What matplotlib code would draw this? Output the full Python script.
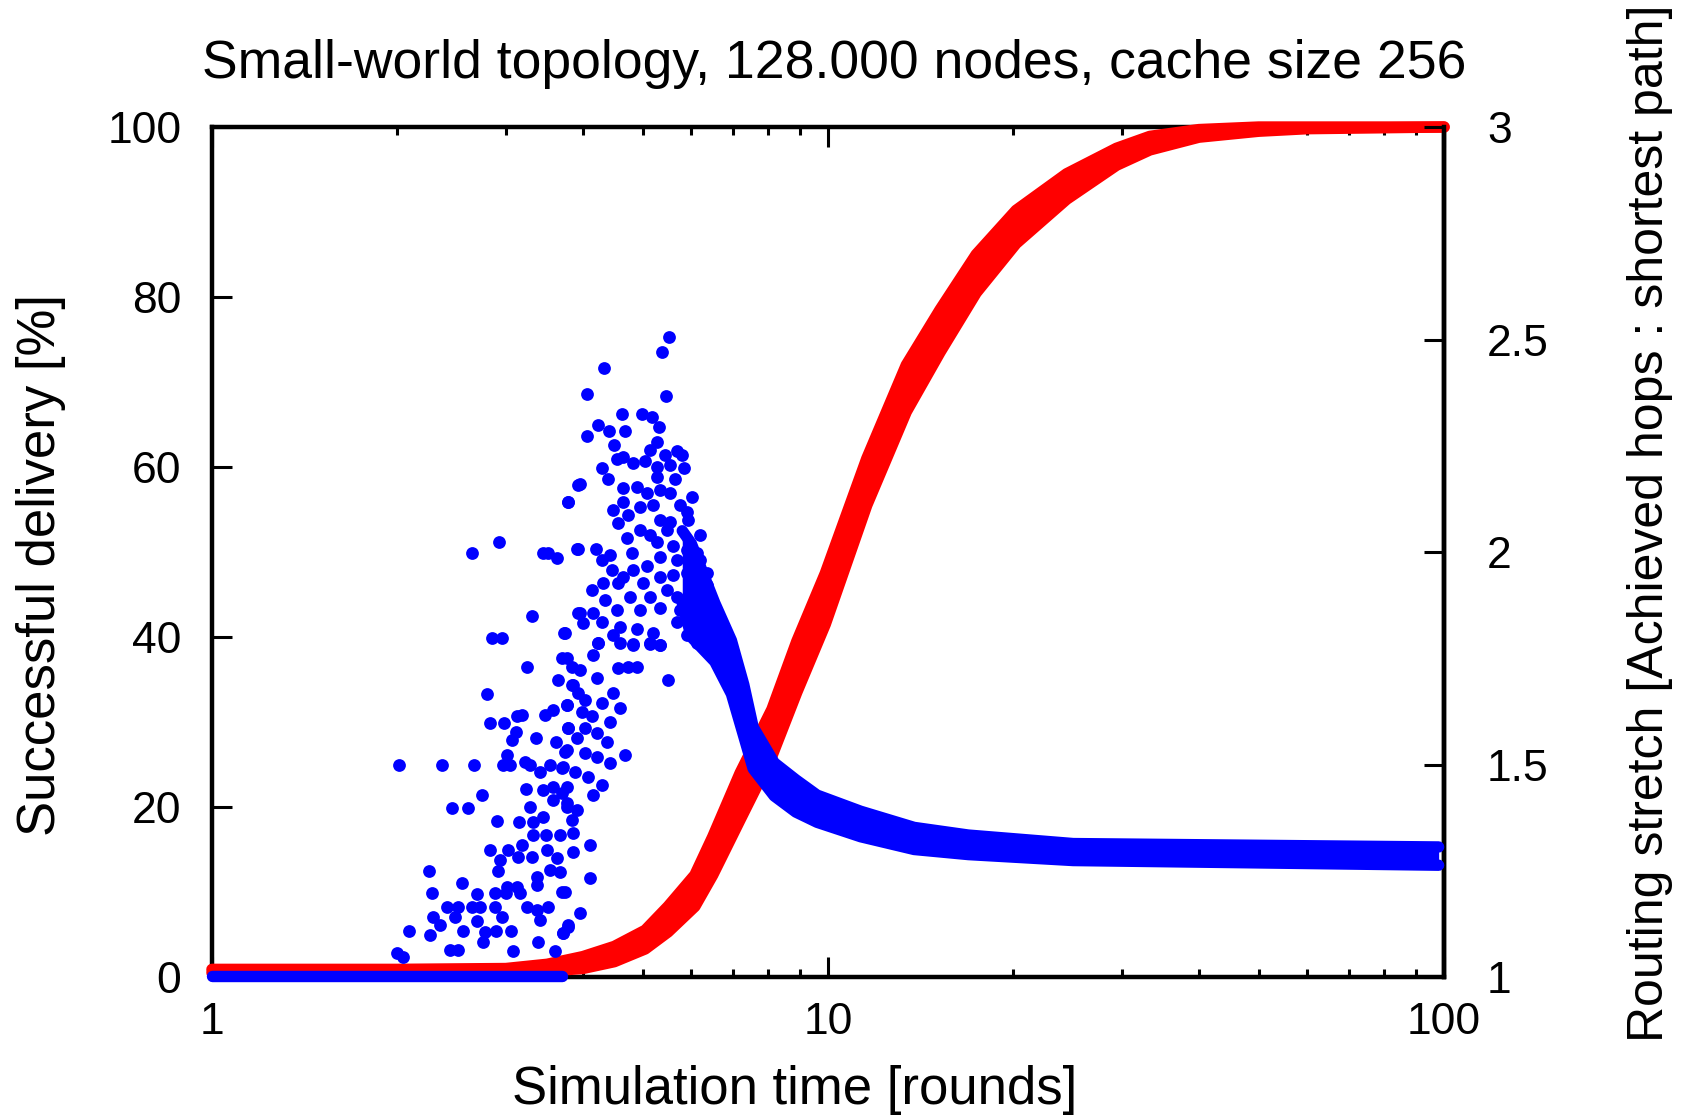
import matplotlib
matplotlib.use('Agg')
import matplotlib.pyplot as plt
from matplotlib.ticker import LogLocator, NullFormatter

plt.rcParams['font.family'] = ['Liberation Sans', 'DejaVu Sans']

# successful delivery [%] -- dense red band, lower / upper edge of the dot cloud
red_x = [1.0, 2.0, 3.0, 3.5, 4.0, 4.5, 5.05, 5.5, 6.08, 6.5, 7.2, 8.11, 8.9, 9.9,
         11.56, 13.4, 15.2, 17.4, 20.2, 24.4, 29.4, 33.3, 40, 50, 60, 100]
red_lo = [0.5, 0.5, 0.6, 0.7, 1.0, 1.8, 3.3, 5.3, 8.3, 12.0, 18.5, 26.0, 33.5, 41.5,
          55.5, 66.5, 73.5, 80.5, 86.3, 91.5, 95.5, 97.3, 98.8, 99.5, 99.8, 100]
red_hi = [0.9, 0.9, 1.0, 1.5, 2.4, 3.6, 5.5, 8.3, 12.0, 16.5, 24.0, 31.5, 39.5, 47.5,
          61.0, 72.0, 78.5, 85.0, 90.2, 94.5, 97.5, 98.9, 99.7, 100, 100, 100]

# routing stretch -- flat part at 1 before any delivery
floor_x = [1.0, 3.7]
floor_s = [1.002, 1.002]

# routing stretch -- dense blue band after the peak
band_x = [5.8, 6.0, 6.55, 6.97, 7.3, 7.56, 8.18, 8.87, 9.6, 11.3, 13.8, 16.9, 25, 98]
band_lo = [1.88, 1.80, 1.742, 1.666, 1.566, 1.49, 1.426, 1.388, 1.364, 1.33, 1.30, 1.288,
           1.274, 1.263]
band_hi = [2.05, 2.02, 1.88, 1.792, 1.688, 1.588, 1.504, 1.464, 1.428, 1.39, 1.352, 1.334,
           1.314, 1.306]

# routing stretch -- scattered single points (rounds, stretch)
blue_pts = [
    # upper left
    (3.933, 2.158), (3.780, 2.118), (2.927, 2.024), (2.646, 1.998), (3.450, 1.998),
    (3.516, 1.998), (3.636, 1.985), (3.917, 2.006), (3.303, 1.849), (2.852, 1.798),
    (2.960, 1.798), (3.731, 1.809), (3.933, 1.856),
    # peak
    (5.526, 2.507), (5.370, 2.470), (4.334, 2.434), (4.058, 2.372), (5.458, 2.366),
    (4.636, 2.324), (4.983, 2.324), (5.174, 2.317), (5.317, 2.295), (4.238, 2.300),
    (4.410, 2.285), (4.682, 2.285), (4.058, 2.274), (4.494, 2.252), (5.271, 2.260),
    (5.140, 2.240), (5.438, 2.228), (5.679, 2.238), (5.785, 2.228), (4.539, 2.220),
    (4.653, 2.223), (4.829, 2.209), (5.045, 2.213), (5.271, 2.201), (5.540, 2.205),
    (5.837, 2.197), (4.291, 2.197), (4.400, 2.172), (5.271, 2.177), (5.644, 2.172),
    (3.958, 2.159), (4.653, 2.150), (4.891, 2.154), (5.077, 2.138), (5.337, 2.146),
    (5.540, 2.138), (6.005, 2.130), (3.789, 2.118), (4.653, 2.118), (4.952, 2.107),
    (5.206, 2.111), (5.750, 2.111), (5.895, 2.095), (4.482, 2.100), (4.741, 2.087),
    (4.567, 2.068), (5.337, 2.075), (5.540, 2.071), (5.932, 2.075), (4.952, 2.052),
    (5.140, 2.040), (5.471, 2.052), (6.197, 2.040), (4.711, 2.032), (5.271, 2.024),
    (5.609, 2.013), (5.895, 2.005), (6.121, 1.997), (3.933, 2.006), (4.201, 2.006),
    (4.428, 1.993), (4.800, 1.997), (5.077, 1.966), (5.337, 1.989), (5.679, 1.981),
    (6.197, 1.981), (4.291, 1.981), (4.455, 1.958), (4.653, 1.942), (4.829, 1.958),
    (5.337, 1.942), (5.609, 1.946), (5.895, 1.950), (6.353, 1.950), (4.134, 1.911),
    (4.317, 1.926), (4.567, 1.926), (5.014, 1.926), (5.471, 1.911), (6.045, 1.918),
    (6.353, 1.922), (4.770, 1.895), (5.140, 1.895), (5.679, 1.895), (6.045, 1.887),
    (4.345, 1.887), (3.958, 1.856), (4.159, 1.856), (4.539, 1.864), (4.952, 1.864),
    (5.337, 1.868), (5.750, 1.864), (6.197, 1.864), (4.008, 1.832), (4.291, 1.836),
    (4.596, 1.824), (4.891, 1.820), (5.679, 1.836), (6.045, 1.832), (6.513, 1.836),
    (3.741, 1.809), (4.482, 1.805), (5.206, 1.809), (5.895, 1.805), (6.353, 1.809),
    (4.238, 1.787), (4.829, 1.784), (5.140, 1.784), (5.337, 1.781), (6.121, 1.785),
    (6.595, 1.793), (6.847, 1.787),
    # lower left
    (3.242, 1.730), (3.695, 1.750), (3.835, 1.730), (3.649, 1.699), (3.835, 1.687),
    (2.792, 1.666), (3.123, 1.613), (3.182, 1.616), (3.472, 1.616), (3.582, 1.628),
    (3.765, 1.640), (2.827, 1.598), (2.982, 1.598), (3.115, 1.577), (3.065, 1.558),
    (3.353, 1.562), (3.618, 1.554), (3.789, 1.585), (3.741, 1.530), (3.008, 1.522),
    (2.014, 1.499), (2.359, 1.499), (2.666, 1.499), (2.963, 1.499), (3.045, 1.499),
    (3.222, 1.507), (3.283, 1.499), (3.538, 1.499), (3.408, 1.483), (3.695, 1.491),
    (3.582, 1.448), (3.234, 1.442), (3.450, 1.440), (3.695, 1.432), (2.747, 1.428),
    (2.455, 1.398), (2.607, 1.398), (3.283, 1.401), (3.582, 1.416), (3.765, 1.401),
    (2.898, 1.367), (3.150, 1.365), (3.315, 1.365), (3.450, 1.377), (3.835, 1.369),
    (3.324, 1.333), (3.480, 1.333), (3.672, 1.333), (2.827, 1.299), (3.027, 1.299),
    (3.182, 1.311), (3.494, 1.299), (3.143, 1.283), (3.303, 1.283), (3.627, 1.279),
    (2.934, 1.275), (2.916, 1.249), (2.250, 1.249), (3.365, 1.236), (3.538, 1.252),
    (3.672, 1.248), (2.549, 1.222), (3.008, 1.212), (3.130, 1.212), (3.365, 1.216),
    (2.279, 1.198), (2.689, 1.195), (2.880, 1.198), (3.001, 1.197), (3.162, 1.197),
    (3.695, 1.201), (2.404, 1.165), (2.512, 1.165), (2.640, 1.165), (2.723, 1.165),
    (2.880, 1.165), (3.242, 1.165), (3.365, 1.158), (3.516, 1.165), (2.288, 1.142),
    (2.480, 1.142), (2.689, 1.132), (2.952, 1.142), (3.408, 1.134), (2.344, 1.122),
    (2.090, 1.109), (2.259, 1.099), (2.559, 1.109), (2.775, 1.107), (2.887, 1.109),
    (3.058, 1.109), (3.718, 1.103), (3.789, 1.122), (2.757, 1.083), (3.386, 1.083),
    (2.434, 1.064), (2.512, 1.064), (3.085, 1.060), (3.605, 1.060), (1.999, 1.056),
    (2.045, 1.046),
    # lower right of the cloud
    (4.238, 1.785), (4.596, 1.785), (4.829, 1.781), (5.140, 1.785), (5.337, 1.781),
    (3.765, 1.750), (4.159, 1.758), (3.958, 1.722), (4.211, 1.703), (4.567, 1.726),
    (4.741, 1.730), (4.891, 1.730), (5.506, 1.700), (3.859, 1.687), (3.933, 1.668),
    (4.033, 1.652), (4.291, 1.644), (4.482, 1.668), (4.596, 1.632), (3.765, 1.640),
    (3.983, 1.624), (4.134, 1.613), (4.428, 1.601), (3.789, 1.585), (4.033, 1.585),
    (3.908, 1.562), (4.211, 1.573), (4.372, 1.554), (3.765, 1.534), (4.033, 1.526),
    (4.211, 1.518), (4.428, 1.503), (4.682, 1.522), (3.718, 1.495), (3.883, 1.483),
    (4.083, 1.471), (4.291, 1.452), (4.159, 1.428), (3.765, 1.448), (3.908, 1.393),
    (3.765, 1.409), (3.859, 1.338), (4.108, 1.311), (3.859, 1.295), (4.108, 1.232),
    (3.741, 1.201), (3.958, 1.150), (3.789, 1.118), (3.718, 1.103),
]
blue_x = [p[0] for p in blue_pts]
blue_s = [p[1] for p in blue_pts]

fig = plt.figure(figsize=(16.86, 11.19), dpi=100)
ax = fig.add_axes([0.1257, 0.1269, 0.7308, 0.7596])
ax2 = ax.twinx()

dot = 8.2  # band edge thickness in points
band = dict(solid_capstyle='round', solid_joinstyle='round', clip_on=False)

# red: delivery
ax.fill_between(red_x, red_lo, red_hi, color='#ff0000', lw=0, zorder=3, clip_on=False)
ax.plot(red_x, red_lo, color='#ff0000', lw=dot, zorder=3, **band)
ax.plot(red_x, red_hi, color='#ff0000', lw=dot, zorder=3, **band)

# blue: stretch
ax2.plot(floor_x, floor_s, color='#0000ff', lw=dot, zorder=3, **band)
ax2.fill_between(band_x, band_lo, band_hi, color='#0000ff', lw=0, zorder=3, clip_on=False)
ax2.plot(band_x, band_lo, color='#0000ff', lw=dot, zorder=3, **band)
ax2.plot(band_x, band_hi, color='#0000ff', lw=dot, zorder=3, **band)
ax2.scatter(blue_x, blue_s, s=9.2 ** 2, color='#0000ff', linewidths=0, zorder=3, clip_on=False)

ax.set_xscale('log')
ax.set_xlim(1, 100)
ax.set_ylim(0, 100)
ax2.set_ylim(1, 3)

ax.set_xticks([1, 10, 100], ['1', '10', '100'])
ax.xaxis.set_minor_locator(LogLocator(base=10, subs=range(2, 10)))
ax.xaxis.set_minor_formatter(NullFormatter())
ax.set_yticks([0, 20, 40, 60, 80, 100])
ax2.set_yticks([1, 1.5, 2, 2.5, 3], ['1', '1.5', '2', '2.5', '3'])

ax.tick_params(axis='both', which='both', direction='in', width=2.2, labelsize=32, colors='black')
ax.tick_params(axis='x', which='both', top=True, bottom=True)
ax.tick_params(which='major', length=14.4)
ax.tick_params(which='minor', length=6)
ax.tick_params(axis='x', pad=18)
ax.tick_params(axis='y', pad=22)
ax2.tick_params(axis='y', direction='in', length=14.4, width=2.2, labelsize=32, pad=31)

for s in ax.spines.values():
    s.set_linewidth(3.2)
for k in ['left', 'top', 'bottom']:
    ax2.spines[k].set_visible(False)
ax2.spines['right'].set_linewidth(3.2)

fig.text(0.4947, 0.943, 'Small-world topology, 128.000 nodes, cache size 256',
         ha='center', va='center', fontsize=38.5)
fig.text(0.4715, 0.026, 'Simulation time [rounds]', ha='center', va='center', fontsize=38)
fig.text(0.0243, 0.495, 'Successful delivery [%]', rotation=90, ha='center', va='center', fontsize=38)
fig.text(0.9786, 0.532, 'Routing stretch [Achieved hops : shortest path]', rotation=90,
         ha='center', va='center', fontsize=36)

fig.savefig('out.png', dpi=100)
